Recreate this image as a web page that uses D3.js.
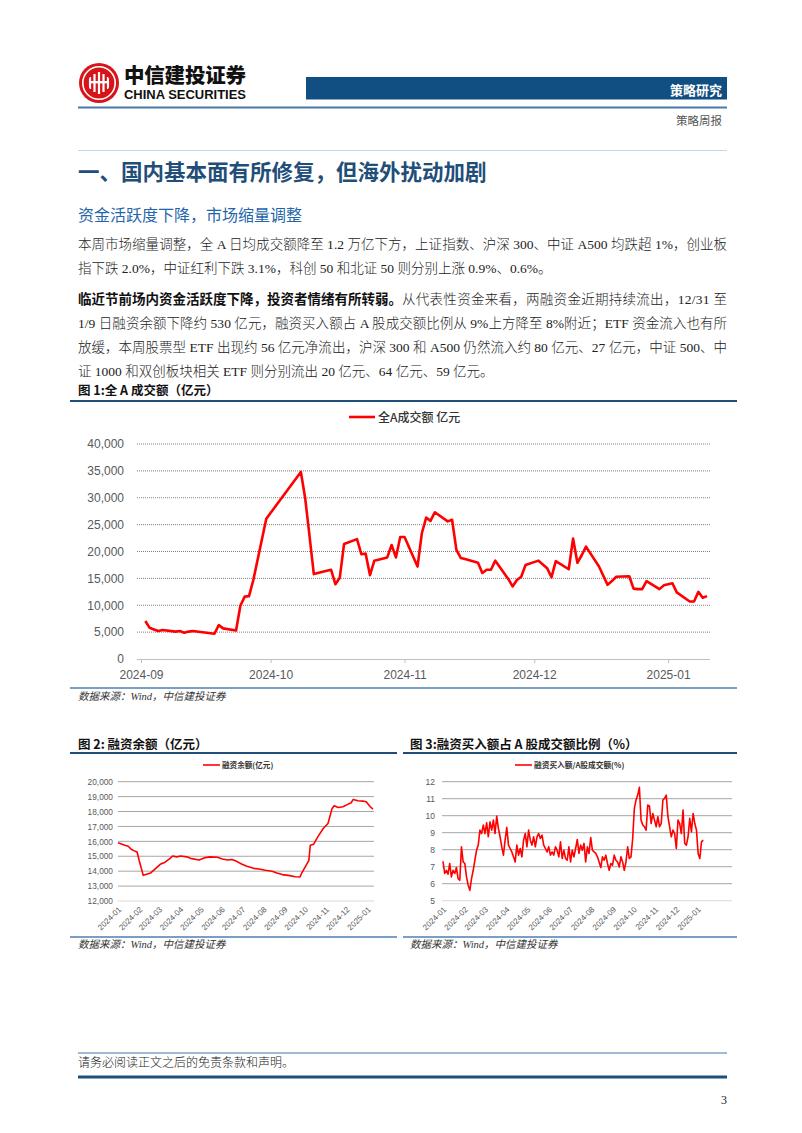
<!DOCTYPE html>
<html><head><meta charset="utf-8">
<script src="https://cdn.jsdelivr.net/npm/d3@7"></script>
<style>
body{margin:0;background:#fff;}
svg{display:block;}
</style></head>
<body><svg id="page" width="802" height="1133"></svg>
<script>
// ---------------- DATA ----------------
const turnoverDates = ['2024-09-02','2024-09-03','2024-09-04','2024-09-05','2024-09-06','2024-09-09','2024-09-10','2024-09-11','2024-09-12','2024-09-13','2024-09-18','2024-09-19','2024-09-20','2024-09-23','2024-09-24','2024-09-25','2024-09-26','2024-09-27','2024-09-30',
'2024-10-08','2024-10-09','2024-10-10','2024-10-11','2024-10-14','2024-10-15','2024-10-16','2024-10-17','2024-10-18','2024-10-21','2024-10-22','2024-10-23','2024-10-24','2024-10-25','2024-10-28','2024-10-29','2024-10-30','2024-10-31',
'2024-11-01','2024-11-04','2024-11-05','2024-11-06','2024-11-07','2024-11-08','2024-11-11','2024-11-12','2024-11-13','2024-11-14','2024-11-15','2024-11-18','2024-11-19','2024-11-20','2024-11-21','2024-11-22','2024-11-25','2024-11-26','2024-11-27','2024-11-28','2024-11-29',
'2024-12-02','2024-12-03','2024-12-04','2024-12-05','2024-12-06','2024-12-09','2024-12-10','2024-12-11','2024-12-12','2024-12-13','2024-12-16','2024-12-17','2024-12-18','2024-12-19','2024-12-20','2024-12-23','2024-12-24','2024-12-25','2024-12-26','2024-12-27','2024-12-30','2024-12-31',
'2025-01-02','2025-01-03','2025-01-06','2025-01-07','2025-01-08','2025-01-09','2025-01-10'];
const turnoverValues = [7080,5800,5500,5200,5400,5100,5200,4900,5100,5200,4700,6300,5700,5300,9900,11600,11700,14700,26100,
34800,29900,22900,15800,16400,16600,13900,15100,21400,22300,19500,19600,15600,18300,18900,21200,18900,22700,
22700,17200,23400,26300,25700,27300,25600,25900,20300,18800,18600,17900,16000,16600,16600,18300,14900,13500,14700,15300,17500,
18300,17600,16900,15200,18200,16700,22400,17900,19300,20900,17200,15500,13800,14500,15300,15400,13100,13000,13000,14500,13000,13700,
14100,12400,10700,10700,12500,11400,11700];
const turnoverXTicks = ['2024-09-01','2024-10-01','2024-11-01','2024-12-01','2025-01-01'];
const turnoverYTicks = [0,5000,10000,15000,20000,25000,30000,35000,40000];

const marginDates = ['2024-01-02','2024-01-12','2024-01-17','2024-01-22','2024-01-26','2024-01-30','2024-02-02','2024-02-08','2024-02-19','2024-02-26','2024-03-04','2024-03-11','2024-03-18','2024-03-22','2024-03-28','2024-04-03','2024-04-12','2024-04-19','2024-04-30','2024-05-09','2024-05-16','2024-05-27','2024-06-03','2024-06-11','2024-06-17','2024-06-24','2024-07-02','2024-07-09','2024-07-19','2024-07-29','2024-08-05','2024-08-15','2024-08-22','2024-08-30','2024-09-10','2024-09-18','2024-09-25','2024-09-27','2024-10-08','2024-10-10','2024-10-15','2024-10-21','2024-10-29','2024-11-05','2024-11-11','2024-11-14','2024-11-20','2024-11-27','2024-12-04','2024-12-09','2024-12-12','2024-12-19','2024-12-26','2024-12-31','2025-01-06','2025-01-10'];
const marginValues = [15900,15740,15670,15450,15360,15290,14730,13720,13880,14170,14460,14600,14840,15020,14960,15020,14960,14840,14750,14910,14960,14930,14820,14750,14780,14660,14460,14330,14190,14130,14060,13990,13880,13770,13700,13630,13610,13830,14730,15740,15810,16300,16860,17200,18210,18390,18270,18320,18480,18590,18810,18720,18700,18650,18320,18160];
const marginYTicks = [12000,13000,14000,15000,16000,17000,18000,19000,20000];

const ratioStart = '2024-01-02', ratioEnd = '2025-01-10';
const ratioValues = [7.32,6.60,6.79,6.56,7.19,6.40,6.79,6.60,6.95,6.30,6.20,8.17,7.28,7.19,6.40,5.91,5.61,6.30,6.79,7.38,7.97,8.27,9.15,8.95,9.45,8.95,9.58,8.76,9.64,9.15,9.74,8.95,9.98,9.25,8.76,8.17,7.68,8.56,9.31,8.27,8.07,7.87,7.58,7.28,8.27,7.68,8.07,7.58,8.56,8.95,8.17,9.15,8.56,8.27,8.76,8.17,8.76,8.95,8.66,8.86,8.27,8.07,7.87,8.17,7.68,7.87,7.68,8.17,7.97,7.58,8.46,7.48,7.97,7.48,7.38,8.17,7.28,7.97,7.58,8.07,8.60,7.78,8.27,7.97,8.37,7.28,8.17,7.78,8.72,7.97,7.87,7.78,7.58,7.28,6.95,7.58,7.38,7.68,7.19,6.79,7.19,7.09,7.68,7.38,7.28,6.99,7.58,7.28,6.79,7.28,8.17,7.48,7.58,8.66,10.43,10.92,11.21,11.67,9.74,9.45,9.35,9.15,10.62,10.57,9.54,10.13,9.74,9.35,9.94,9.35,9.54,10.92,11.02,11.21,9.94,9.35,8.76,9.15,8.95,8.07,9.74,9.54,8.95,10.33,8.37,8.27,8.76,9.84,9.05,10.13,9.54,9.15,7.78,7.48,8.46,8.56];
const ratioYTicks = [5,6,7,8,9,10,11,12];
const monthTicks = ['2024-01-01','2024-02-01','2024-03-01','2024-04-01','2024-05-01','2024-06-01','2024-07-01','2024-08-01','2024-09-01','2024-10-01','2024-11-01','2024-12-01','2025-01-01'];

// ---------------- SETUP ----------------
const svg = d3.select('#page');
const SANS = '"Noto Sans CJK SC","Noto Sans",sans-serif';
const SERIF = '"Liberation Serif","Noto Sans CJK SC",serif';
const ARIAL = '"Liberation Sans",Arial,sans-serif';
const parse = d3.timeParse('%Y-%m-%d');
const fmtMonth = d3.timeFormat('%Y-%m');
const NAVY = '#1F4E79';
const RED = '#FF0000';

function txt(x, y, s, o) {
  o = o || {};
  const t = svg.append('text').attr('x', x).attr('y', y).text(s)
    .attr('font-family', o.family || SERIF)
    .attr('font-size', o.size || 13.5)
    .attr('fill', o.fill || '#222');
  if (o.weight) t.attr('font-weight', o.weight);
  if (o.anchor) t.attr('text-anchor', o.anchor);
  if (o.style) t.attr('font-style', o.style);
  if (o.len) t.attr('textLength', o.len).attr('lengthAdjust', o.adjust || 'spacing');
  return t;
}
function rule(x1, x2, y, color, w) {
  svg.append('line').attr('x1', x1).attr('x2', x2).attr('y1', y).attr('y2', y)
    .attr('stroke', color).attr('stroke-width', w);
}

// ---------------- HEADER ----------------
const logo = svg.append('g').attr('transform', 'translate(99,83)');
logo.append('circle').attr('r', 20).attr('fill', '#D7141A');
logo.append('circle').attr('r', 16.2).attr('fill', 'none').attr('stroke', '#fff').attr('stroke-width', 1.6);
[-9, -4.5, 0, 4.5, 9].forEach((dx, i) => {
  const h = i === 2 ? 22 : (i === 1 || i === 3 ? 18 : 12);
  logo.append('rect').attr('x', dx - 1.1).attr('y', -h / 2).attr('width', 2.2).attr('height', h).attr('fill', '#fff');
});
logo.append('rect').attr('x', -9).attr('y', -2).attr('width', 18).attr('height', 2.4).attr('fill', '#fff');
logo.append('circle').attr('r', 11.5).attr('fill', 'none').attr('stroke', '#D7141A').attr('stroke-width', 1.2);

txt(124, 83, '中信建投证券', { family: SANS, size: 20.5, weight: 900, fill: '#111', len: 122 });
txt(124, 99, 'CHINA SECURITIES', { family: ARIAL, size: 12, weight: 700, fill: '#111', len: 122, adjust: 'spacingAndGlyphs' });

svg.append('rect').attr('x', 306).attr('y', 77).attr('width', 421).attr('height', 22.5).attr('fill', '#114F82');
txt(722, 95, '策略研究', { family: SANS, size: 13, weight: 700, fill: '#fff', anchor: 'end' });
rule(78, 727, 107.5, '#4A7BA7', 2);
txt(722, 125, '策略周报', { family: SERIF, size: 11.5, fill: '#555', anchor: 'end' });

// ---------------- TITLES & BODY ----------------
rule(78, 727, 150.5, '#C5D6E6', 1);
txt(78, 180, '一、国内基本面有所修复，但海外扰动加剧', { family: SANS, size: 21.5, weight: 700, fill: NAVY });
txt(78, 221, '资金活跃度下降，市场缩量调整', { family: SANS, size: 16, fill: '#1F66AA' });

const LW = 649;
const BODY = { weight: 300 };
txt(78, 249, '本周市场缩量调整，全 A 日均成交额降至 1.2 万亿下方，上证指数、沪深 300、中证 A500 均跌超 1%，创业板', { len: LW, weight: 300 });
txt(78, 273, '指下跌 2.0%，中证红利下跌 3.1%，科创 50 和北证 50 则分别上涨 0.9%、0.6%。', BODY);
const boldPart = txt(78, 304, '临近节前场内资金活跃度下降，投资者情绪有所转弱。', { family: SANS, weight: 700, fill: '#111' });
const bw = boldPart.node().getComputedTextLength();
txt(78 + bw, 304, '从代表性资金来看，两融资金近期持续流出，12/31 至', { len: 727 - (78 + bw), weight: 300 });
txt(78, 328, '1/9 日融资余额下降约 530 亿元，融资买入额占 A 股成交额比例从 9%上方降至 8%附近；ETF 资金流入也有所', { len: LW, weight: 300 });
txt(78, 352, '放缓，本周股票型 ETF 出现约 56 亿元净流出，沪深 300 和 A500 仍然流入约 80 亿元、27 亿元，中证 500、中', { len: LW, weight: 300 });
txt(78, 376, '证 1000 和双创板块相关 ETF 则分别流出 20 亿元、64 亿元、59 亿元。', BODY);

// ---------------- FIGURE 1 ----------------
txt(78, 395, '图 1:全 A 成交额（亿元）', { family: SANS, size: 12.5, weight: 700, fill: '#111' });
rule(70, 737, 401, NAVY, 1.8);

const x1 = d3.scaleTime().domain([parse('2024-09-01'), parse('2025-01-10')]).range([141, 707]);
const y1 = d3.scaleLinear().domain([0, 40000]).range([659, 444]);
const g1 = svg.append('g');
g1.selectAll('line.grid').data(turnoverYTicks.filter(d => d > 0)).join('line')
  .attr('x1', 137).attr('x2', 710).attr('y1', d => y1(d)).attr('y2', d => y1(d))
  .attr('stroke', '#808080').attr('stroke-width', 1).attr('stroke-dasharray', '1,1');
const ya1 = g1.append('g').attr('transform', 'translate(131,0)')
  .call(d3.axisLeft(y1).tickValues(turnoverYTicks).tickFormat(d3.format(',')).tickSize(0).tickPadding(0));
ya1.select('.domain').remove();
ya1.selectAll('text').attr('font-family', ARIAL).attr('font-size', 12).attr('fill', '#595959').attr('x', -7);
const xa1 = g1.append('g').attr('transform', 'translate(0,659)')
  .call(d3.axisBottom(x1).tickValues(turnoverXTicks.map(parse)).tickFormat(fmtMonth).tickSize(4).tickSizeOuter(0));
xa1.select('.domain').attr('d', 'M137,0.5H710').attr('stroke', '#BFBFBF');
xa1.selectAll('.tick line').attr('stroke', '#BFBFBF');
xa1.selectAll('text').attr('font-family', ARIAL).attr('font-size', 12).attr('fill', '#595959').attr('y', 11);
const turnover = turnoverDates.map((d, i) => ({ d: parse(d), v: turnoverValues[i] }));
g1.append('path').datum(turnover).attr('fill', 'none').attr('stroke', RED).attr('stroke-width', 2.6)
  .attr('stroke-linejoin', 'round')
  .attr('d', d3.line().x(p => x1(p.d)).y(p => y1(p.v)));
// legend
rule(349, 375, 417, RED, 2.6);
txt(378, 421.5, '全A成交额 亿元', { family: SANS, size: 12, weight: 500, fill: '#333' });

rule(70, 737, 688, '#4E7FAE', 1.5);
txt(78, 700, '数据来源：Wind，中信建投证券', { size: 10.5, style: 'italic', fill: '#333' });

// ---------------- FIGURE 2 ----------------
txt(78, 748.5, '图 2: 融资余额（亿元）', { family: SANS, size: 12.5, weight: 700, fill: '#111' });
rule(70, 397, 753, NAVY, 1.8);
const x2 = d3.scaleTime().domain([parse('2024-01-02'), parse('2025-01-10')]).range([118, 373]);
const y2 = d3.scaleLinear().domain([12000, 20000]).range([901, 781.7]);
const g2 = svg.append('g');
g2.selectAll('line.grid').data(marginYTicks).join('line')
  .attr('x1', 118).attr('x2', 374).attr('y1', d => y2(d)).attr('y2', d => y2(d))
  .attr('stroke', d => d === 12000 ? '#D9D9D9' : '#A6A6A6').attr('stroke-width', 1);
const ya2 = g2.append('g').attr('transform', 'translate(113,0)')
  .call(d3.axisLeft(y2).tickValues(marginYTicks).tickFormat(d3.format(',')).tickSize(0).tickPadding(0));
ya2.select('.domain').remove();
ya2.selectAll('text').attr('font-family', ARIAL).attr('font-size', 8.3).attr('fill', '#595959');
const xa2 = g2.append('g').attr('transform', 'translate(0,901)')
  .call(d3.axisBottom(x2).tickValues(monthTicks.map(parse)).tickFormat(fmtMonth).tickSize(0));
xa2.select('.domain').remove();
xa2.selectAll('text').attr('font-family', ARIAL).attr('font-size', 8).attr('fill', '#595959')
  .attr('x', 0).attr('y', 0).attr('dy', '0.35em').attr('text-anchor', 'end')
  .attr('transform', 'translate(2,7) rotate(-45)');
const margin = marginDates.map((d, i) => ({ d: parse(d), v: marginValues[i] }));
g2.append('path').datum(margin).attr('fill', 'none').attr('stroke', RED).attr('stroke-width', 1.6)
  .attr('stroke-linejoin', 'round')
  .attr('d', d3.line().x(p => x2(p.d)).y(p => y2(p.v)));
rule(203, 220, 765, RED, 1.6);
txt(222, 767.8, '融资余额(亿元)', { family: SANS, size: 7.6, weight: 700, fill: '#333' });
rule(70, 397, 937, '#4E7FAE', 1.5);
txt(78, 947.5, '数据来源：Wind，中信建投证券', { size: 10.5, style: 'italic', fill: '#333' });

// ---------------- FIGURE 3 ----------------
txt(410, 748.5, '图 3:融资买入额占 A 股成交额比例（%）', { family: SANS, size: 12.5, weight: 700, fill: '#111' });
rule(403, 737, 753, NAVY, 1.8);
const x3 = d3.scaleTime().domain([parse('2024-01-02'), parse('2025-02-20')]).range([443, 731.7]);
const y3 = d3.scaleLinear().domain([5, 12]).range([900.7, 781.7]);
const g3 = svg.append('g');
g3.selectAll('line.grid').data(ratioYTicks).join('line')
  .attr('x1', 442).attr('x2', 732).attr('y1', d => y3(d)).attr('y2', d => y3(d))
  .attr('stroke', d => d === 5 ? '#D9D9D9' : '#A6A6A6').attr('stroke-width', 1);
const ya3 = g3.append('g').attr('transform', 'translate(435,0)')
  .call(d3.axisLeft(y3).tickValues(ratioYTicks).tickFormat(d3.format('d')).tickSize(0).tickPadding(0));
ya3.select('.domain').remove();
ya3.selectAll('text').attr('font-family', ARIAL).attr('font-size', 8.5).attr('fill', '#595959');
const xa3 = g3.append('g').attr('transform', 'translate(0,901)')
  .call(d3.axisBottom(x3).tickValues(monthTicks.map(parse)).tickFormat(fmtMonth).tickSize(0));
xa3.select('.domain').remove();
xa3.selectAll('text').attr('font-family', ARIAL).attr('font-size', 8).attr('fill', '#595959')
  .attr('x', 0).attr('y', 0).attr('dy', '0.35em').attr('text-anchor', 'end')
  .attr('transform', 'translate(2,7) rotate(-45)');
const rT = d3.scaleLinear().domain([0, ratioValues.length - 1]).range([parse(ratioStart).getTime(), parse(ratioEnd).getTime()]);
const ratio = ratioValues.map((v, i) => ({ d: new Date(rT(i)), v }));
g3.append('path').datum(ratio).attr('fill', 'none').attr('stroke', RED).attr('stroke-width', 1.6)
  .attr('stroke-linejoin', 'round')
  .attr('d', d3.line().x(p => x3(p.d)).y(p => y3(p.v)));
rule(515, 532, 765, RED, 1.6);
txt(534, 767.8, '融资买入额/A股成交额(%)', { family: SANS, size: 7.7, weight: 700, fill: '#333' });
rule(403, 737, 937, '#4E7FAE', 1.5);
txt(410, 947.5, '数据来源：Wind，中信建投证券', { size: 10.5, style: 'italic', fill: '#333' });

// ---------------- FOOTER ----------------
rule(78, 727, 1053, '#7FA3C6', 1.5);
txt(78, 1067, '请务必阅读正文之后的免责条款和声明。', { size: 12, fill: '#222', weight: 300 });
rule(78, 727, 1077, '#1F4E79', 3);
txt(727, 1104, '3', { size: 12, fill: '#222', anchor: 'end' });
</script></body></html>
